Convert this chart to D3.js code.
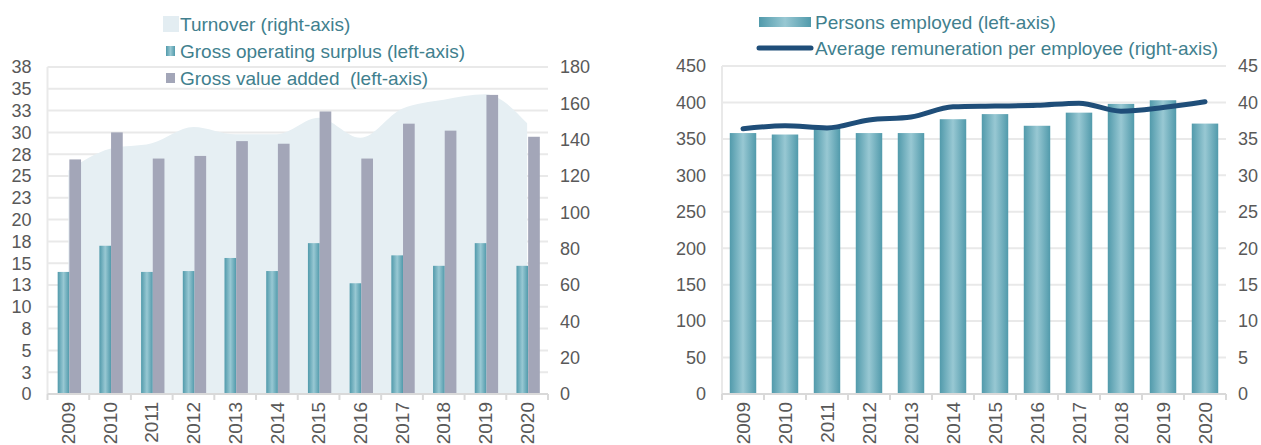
<!DOCTYPE html>
<html>
<head>
<meta charset="utf-8">
<script src="https://cdn.jsdelivr.net/npm/d3@7"></script>
<style>
	body { margin: 0; background: #fff; }
	svg { display: block; font-family: "Liberation Sans", Arial, sans-serif; }
</style>
</head>
<body>
<svg id="chart" width="1261" height="445"></svg>
<script>
const years = ["2009", "2010", "2011", "2012", "2013", "2014", "2015", "2016", "2017", "2018", "2019", "2020"];

// left chart
const turnover = [123, 135, 138, 147, 143, 143, 152, 141, 157, 162, 165, 149];
const grossOperatingSurplus = [14.0, 17.0, 14.0, 14.1, 15.6, 14.1, 17.3, 12.7, 15.9, 14.7, 17.3, 14.7];
const grossValueAdded = [26.9, 30.0, 27.0, 27.3, 29.0, 28.7, 32.4, 27.0, 31.0, 30.2, 34.3, 29.5];
const leftTicks1 = [0, 2.5, 5, 7.5, 10, 12.5, 15, 17.5, 20, 22.5, 25, 27.5, 30, 32.5, 35, 37.5];
const leftLabels1 = ["0", "3", "5", "8", "10", "13", "15", "18", "20", "23", "25", "28", "30", "33", "35", "38"];
const rightTicks1 = [0, 20, 40, 60, 80, 100, 120, 140, 160, 180];

// right chart
const personsEmployed = [358, 356, 367, 358, 358, 377, 384, 368, 386, 398, 403, 371];
const avgRemuneration = [36.4, 36.8, 36.5, 37.6, 38.0, 39.4, 39.5, 39.6, 39.9, 38.8, 39.3, 40.1];
const leftTicks2 = [0, 50, 100, 150, 200, 250, 300, 350, 400, 450];
const rightTicks2 = [0, 5, 10, 15, 20, 25, 30, 35, 40, 45];

const svg = d3.select("#chart");
const tickColor = "#595959";
const legendColor = "#417f8e";
const gridColor = "#e9e9e9";

// gradient for the teal bars
const defs = svg.append("defs");
const grad = defs.append("linearGradient").attr("id", "teal").attr("x1", "0%").attr("x2", "100%");
grad.append("stop").attr("offset", "0%").attr("stop-color", "#519aab");
grad.append("stop").attr("offset", "50%").attr("stop-color", "#98c8d3");
grad.append("stop").attr("offset", "100%").attr("stop-color", "#519aab");

function drawFrame(g, x, yL, yR, leftTicks, leftLabels, rightTicks, x0, x1, top, base) {
	// gridlines
	g.append("g")
		.selectAll("line")
		.data(leftTicks.slice(1))
		.join("line")
		.attr("x1", x0)
		.attr("x2", x1)
		.attr("y1", (d) => yL(d))
		.attr("y2", (d) => yL(d))
		.attr("stroke", gridColor)
		.attr("stroke-width", 2);

	g.append("line")
		.attr("x1", x0).attr("x2", x0)
		.attr("y1", top).attr("y2", base)
		.attr("stroke", gridColor)
		.attr("stroke-width", 2);

	// left labels
	g.append("g")
		.selectAll("text")
		.data(leftTicks)
		.join("text")
		.attr("x", x0 - 16)
		.attr("y", (d) => yL(d))
		.attr("dy", "0.35em")
		.attr("text-anchor", "end")
		.attr("font-size", "18px")
		.attr("fill", tickColor)
		.text((d, i) => leftLabels[i]);

	// right labels
	g.append("g")
		.selectAll("text")
		.data(rightTicks)
		.join("text")
		.attr("x", x1 + 12)
		.attr("y", (d) => yR(d))
		.attr("dy", "0.35em")
		.attr("text-anchor", "start")
		.attr("font-size", "18px")
		.attr("fill", tickColor)
		.text((d) => d);
}

function drawXAxis(g, x, x0, x1, base) {
	g.append("line")
		.attr("x1", x0).attr("x2", x1)
		.attr("y1", base).attr("y2", base)
		.attr("stroke", "#d9d9d9")
		.attr("stroke-width", 2);

	const bounds = years.map((d) => x(d)).concat([x1]);
	g.append("g")
		.selectAll("line")
		.data(bounds)
		.join("line")
		.attr("x1", (d) => d).attr("x2", (d) => d)
		.attr("y1", base).attr("y2", base + 6)
		.attr("stroke", "#d9d9d9")
		.attr("stroke-width", 2);

	g.append("g")
		.selectAll("text")
		.data(years)
		.join("text")
		.attr("transform", (d) => `translate(${x(d) + x.bandwidth() / 2},${base + 8}) rotate(-90)`)
		.attr("dy", "0.35em")
		.attr("text-anchor", "end")
		.attr("font-size", "19px")
		.attr("fill", tickColor)
		.text((d) => d);
}

// ---------- left chart ----------
{
	const x0 = 47.5, x1 = 548, top = 67, base = 394;
	const g = svg.append("g");
	const x = d3.scaleBand().domain(years).range([x0, x1]);
	const yL = d3.scaleLinear().domain([0, 37.5]).range([base, top]);
	const yR = d3.scaleLinear().domain([0, 180]).range([base, top]);

	drawFrame(g, x, yL, yR, leftTicks1, leftLabels1, rightTicks1, x0, x1, top, base);

	const cx = (d) => x(d) + x.bandwidth() / 2;

	const area = d3.area()
		.x((d, i) => cx(years[i]))
		.y0(base)
		.y1((d) => yR(d))
		.curve(d3.curveMonotoneX);

	g.append("path")
		.attr("d", area(turnover))
		.attr("fill", "#e6eff3");

	const bw = x.bandwidth() * 0.28;

	g.append("g")
		.selectAll("rect")
		.data(grossOperatingSurplus)
		.join("rect")
		.attr("x", (d, i) => cx(years[i]) - bw + 1)
		.attr("y", (d) => yL(d))
		.attr("width", bw)
		.attr("height", (d) => base - yL(d))
		.attr("fill", "url(#teal)");

	g.append("g")
		.selectAll("rect")
		.data(grossValueAdded)
		.join("rect")
		.attr("x", (d, i) => cx(years[i]) + 1)
		.attr("y", (d) => yL(d))
		.attr("width", bw)
		.attr("height", (d) => base - yL(d))
		.attr("fill", "#a3a6b8");

	drawXAxis(g, x, x0, x1, base);

	// legend
	const legend = [
		{ label: "Turnover (right-axis)", y: 24, swatch: (s) => s.append("rect").attr("x", 163).attr("y", 16).attr("width", 16).attr("height", 16).attr("fill", "#e3edf2") },
		{ label: "Gross operating surplus (left-axis)", y: 51, swatch: (s) => s.append("rect").attr("x", 166).attr("y", 46).attr("width", 9).attr("height", 10).attr("fill", "url(#teal)") },
		{ label: "Gross value added  (left-axis)", y: 78, swatch: (s) => s.append("rect").attr("x", 166).attr("y", 73).attr("width", 9).attr("height", 10).attr("fill", "#a3a6b8") },
	];
	legend.forEach((item) => {
		item.swatch(g);
		g.append("text")
			.attr("x", 180)
			.attr("y", item.y)
			.attr("dy", "0.35em")
			.attr("font-size", "19px")
			.attr("fill", legendColor)
			.style("white-space", "pre")
			.text(item.label);
	});
}

// ---------- right chart ----------
{
	const x0 = 722, x1 = 1226, top = 66, base = 394;
	const g = svg.append("g");
	const x = d3.scaleBand().domain(years).range([x0, x1]);
	const yL = d3.scaleLinear().domain([0, 450]).range([base, top]);
	const yR = d3.scaleLinear().domain([0, 45]).range([base, top]);

	drawFrame(g, x, yL, yR, leftTicks2, leftTicks2, rightTicks2, x0, x1, top, base);

	const cx = (d) => x(d) + x.bandwidth() / 2;
	const bw = x.bandwidth() * 0.63;

	g.append("g")
		.selectAll("rect")
		.data(personsEmployed)
		.join("rect")
		.attr("x", (d, i) => cx(years[i]) - bw / 2)
		.attr("y", (d) => yL(d))
		.attr("width", bw)
		.attr("height", (d) => base - yL(d))
		.attr("fill", "url(#teal)");

	const line = d3.line()
		.x((d, i) => cx(years[i]))
		.y((d) => yR(d))
		.curve(d3.curveMonotoneX);

	g.append("path")
		.attr("d", line(avgRemuneration))
		.attr("fill", "none")
		.attr("stroke", "#1f4e79")
		.attr("stroke-width", 5)
		.attr("stroke-linecap", "round");

	drawXAxis(g, x, x0, x1, base);

	// legend
	g.append("rect")
		.attr("x", 759).attr("y", 17)
		.attr("width", 52).attr("height", 10)
		.attr("fill", "url(#teal)");
	g.append("text")
		.attr("x", 815).attr("y", 22).attr("dy", "0.35em")
		.attr("font-size", "19px")
		.attr("fill", legendColor)
		.text("Persons employed (left-axis)");

	g.append("line")
		.attr("x1", 759).attr("x2", 811)
		.attr("y1", 48).attr("y2", 48)
		.attr("stroke", "#1f4e79")
		.attr("stroke-width", 5)
		.attr("stroke-linecap", "round");
	g.append("text")
		.attr("x", 815).attr("y", 48).attr("dy", "0.35em")
		.attr("font-size", "19px")
		.attr("fill", legendColor)
		.text("Average remuneration per employee (right-axis)");
}
</script>
</body>
</html>
